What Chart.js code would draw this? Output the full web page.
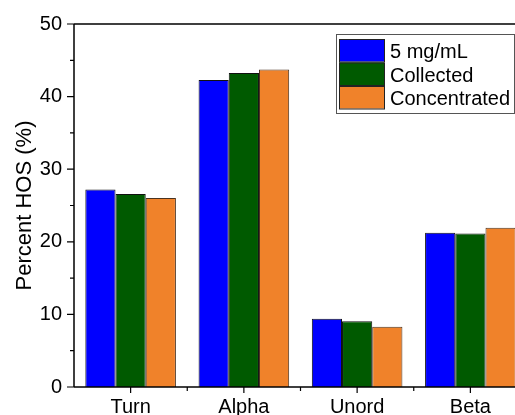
<!DOCTYPE html>
<html>
<head>
<meta charset="utf-8">
<script src="https://cdn.jsdelivr.net/npm/chart.js@4.4.1/dist/chart.umd.min.js"></script>
<style>
  html, body { margin: 0; padding: 0; overflow: hidden; background: #fff; }
  #wrap { position: relative; width: 540px; height: 440px; }
</style>
</head>
<body>
<div id="wrap"><canvas id="c" width="540" height="440"></canvas></div>
<script>
// Secondary structure categories and the three sample series (%)
const categories = ['Turn', 'Alpha', 'Unord', 'Beta'];
const seriesLabels = ['5 mg/mL', 'Collected', 'Concentrated'];
const stock = [27.2, 42.3, 9.4, 21.25];
const collected = [26.6, 43.25, 9.05, 21.15];
const concentrated = [26.05, 43.75, 8.3, 21.95];
const yTicks = [0, 10, 20, 30, 40, 50];

const colors = ['#0000FF', '#005A00', '#F0822A'];
const borders = ['#111111', '#111111', '#4a3320'];
const FONT = '"Liberation Sans", Arial, sans-serif';

// Frame, tick marks and a boxed legend drawn on top of the chart
const framePlugin = {
  id: 'frame',
  afterDraw(chart) {
    const ctx = chart.ctx;
    const a = chart.chartArea;
    const x = chart.scales.x, y = chart.scales.y;
    ctx.save();
    ctx.strokeStyle = '#000';
    ctx.lineWidth = 1.5;
    ctx.beginPath();
    ctx.moveTo(a.left, a.top); ctx.lineTo(a.right, a.top);
    ctx.moveTo(a.left, a.top); ctx.lineTo(a.left, a.bottom);
    ctx.moveTo(a.left, a.bottom); ctx.lineTo(a.right, a.bottom);
    ctx.stroke();
    // y ticks: major every 10, minor every 5
    ctx.lineWidth = 1.2;
    ctx.beginPath();
    for (let v = 0; v <= 50; v += 5) {
      const py = y.getPixelForValue(v);
      const len = v % 10 === 0 ? 7 : 4;
      ctx.moveTo(a.left - len, py); ctx.lineTo(a.left, py);
    }
    // x ticks: major at category centres, minor between categories
    for (let i = 0; i < categories.length; i++) {
      const px = x.getPixelForValue(i);
      ctx.moveTo(px, a.bottom); ctx.lineTo(px, a.bottom + 6);
      if (i > 0) {
        const mx = (px + x.getPixelForValue(i - 1)) / 2;
        ctx.moveTo(mx, a.bottom); ctx.lineTo(mx, a.bottom + 4);
      }
    }
    ctx.stroke();

    // legend box
    const lx = 336, ly = 34, lw = 178, lh = 79;
    ctx.fillStyle = '#fff';
    ctx.fillRect(lx, ly, lw, lh);
    ctx.strokeStyle = '#555';
    ctx.lineWidth = 1;
    ctx.strokeRect(lx + 0.5, ly + 0.5, lw, lh);
    ctx.font = '20px ' + FONT;
    ctx.textBaseline = 'alphabetic';
    chart.data.datasets.forEach((ds, i) => {
      const ry = ly + 5 + i * 23.5;
      ctx.fillStyle = ds.backgroundColor;
      ctx.fillRect(lx + 3, ry, 45, 22.5);
      ctx.strokeStyle = '#222';
      ctx.strokeRect(lx + 3.5, ry + 0.5, 45, 22.5);
      ctx.fillStyle = '#000';
      ctx.fillText(ds.label, lx + 54, ry + 19);
    });
    ctx.restore();
  }
};

new Chart(document.getElementById('c'), {
  type: 'bar',
  data: {
    labels: categories,
    datasets: [stock, collected, concentrated].map((d, i) => ({
      label: seriesLabels[i],
      data: d,
      backgroundColor: colors[i],
      borderColor: borders[i],
      borderWidth: 1,
      categoryPercentage: 0.8,
      barPercentage: 1.0
    }))
  },
  options: {
    responsive: false,
    animation: false,
    layout: { padding: { top: 22, right: 13, left: 0, bottom: 0 } },
    plugins: { legend: { display: false }, tooltip: { enabled: false } },
    scales: {
      x: {
        grid: { display: false, drawTicks: false },
        border: { display: false },
        ticks: { color: '#000', font: { family: FONT, size: 20 }, padding: 8, maxRotation: 0 },
        afterFit(s) { s.height = 53; }
      },
      y: {
        min: 0, max: 50,
        afterBuildTicks(s) { s.ticks = yTicks.map(v => ({ value: v })); },
        grid: { display: false, drawTicks: false },
        border: { display: false },
        ticks: { color: '#000', font: { family: FONT, size: 20 }, padding: 12 },
        title: {
          display: true, text: 'Percent HOS (%)', color: '#000',
          font: { family: FONT, size: 22 }, padding: { top: 12, bottom: 0 }
        },
        afterFit(s) { s.width = 74; }
      }
    }
  },
  plugins: [framePlugin]
});
</script>
</body>
</html>
